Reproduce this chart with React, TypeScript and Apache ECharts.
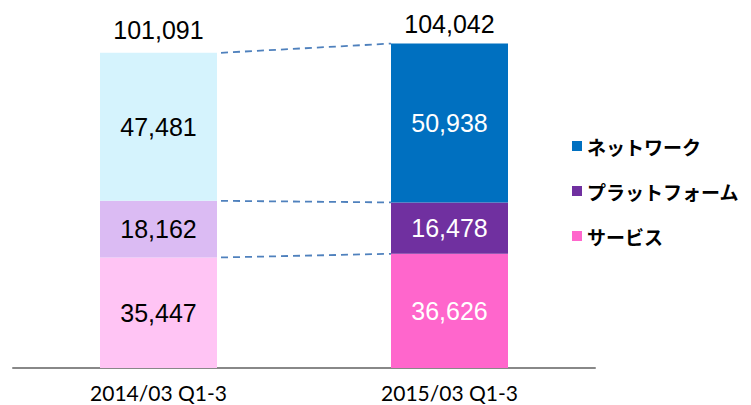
import React, { useEffect, useRef } from "react";
import * as echarts from "echarts";

const categories = ["2014/03 Q1-3", "2015/03 Q1-3"];
const seriesNames = ["サービス", "プラットフォーム", "ネットワーク"];
const service = [35447, 36626];
const platform = [18162, 16478];
const network = [47481, 50938];
const totals = [101091, 104042];
const legendOrder = ["ネットワーク", "プラットフォーム", "サービス"];

const lightColors = ["#FFC4F4", "#DBBBF3", "#D5F3FD"];
const strongColors = ["#FF66CC", "#7030A0", "#0070C0"];
const labelColors2014 = "#000000";
const labelColors2015 = "#FFFFFF";

const BW = 117;
const fmt = (v: number) => v.toLocaleString("en-US");

export default function App() {
  const ref = useRef<HTMLDivElement>(null);
  useEffect(() => {
    document.body.style.margin = "0";
    const chart = echarts.init(ref.current!, null, { renderer: "svg" });
    const segs = [service, platform, network];
    const cum: number[][] = [];
    let acc = [0, 0];
    segs.forEach((s) => {
      acc = [acc[0] + s[0], acc[1] + s[1]];
      cum.push([...acc]);
    });
    const barSeries = segs.map((s, i) => ({
      name: seriesNames[i],
      type: "bar",
      stack: "total",
      barWidth: BW,
      itemStyle: { color: strongColors[i] },
      label: {
        show: true,
        position: "inside",
        fontFamily: "Liberation Sans",
        fontSize: 25,
        formatter: (p: any) => fmt(p.value),
      },
      data: s.map((v, j) => ({
        value: v,
        itemStyle: { color: j === 0 ? lightColors[i] : strongColors[i] },
        label: { color: j === 0 ? labelColors2014 : labelColors2015 },
      })),
    }));
    chart.setOption({
      animation: false,
      grid: { left: 13, right: 156, top: 25, bottom: 37 },
      legend: {
        data: legendOrder,
        orient: "vertical",
        left: 567,
        top: 131,
        itemWidth: 10,
        itemHeight: 10,
        itemGap: 25,
        itemTextGap: 3,
        icon: "rect",
        textStyle: {
          fontFamily: "Noto Sans CJK JP",
          fontWeight: "bold",
          fontSize: 19,
          color: "#000",
          lineHeight: 20,
        },
      },
      xAxis: {
        type: "category",
        data: categories,
        axisLine: { lineStyle: { color: "#888888", width: 2 } },
        axisTick: { show: false },
        axisLabel: {
          fontFamily: "Lato",
          fontSize: 21,
          lineHeight: 18,
          color: "#000",
          margin: 15,
        },
      },
      yAxis: { type: "value", min: 0, max: 110000, show: false },
      series: [
        ...barSeries,
        {
          type: "custom",
          name: "lines",
          z: 5,
          encode: { x: 0, y: 1 },
          data: cum.map((c) => [0, c[0], c[1]]),
          renderItem: (params: any, api: any) => {
            const p1 = api.coord([0, api.value(1)]);
            const p2 = api.coord([1, api.value(2)]);
            return {
              type: "line",
              shape: { x1: p1[0] + BW / 2 + 4, y1: p1[1], x2: p2[0] - BW / 2, y2: p2[1] },
              style: { stroke: "#4F81BD", lineWidth: 1.8, lineDash: [7, 5] },
            };
          },
        },
        {
          type: "scatter",
          name: "totals",
          symbolSize: 0,
          itemStyle: { opacity: 1 },
          data: totals.map((v, i) => ({ value: v, label: { distance: i === 0 ? 10 : 7 } })),
          label: {
            show: true,
            position: "top",
            fontFamily: "Liberation Sans",
            fontSize: 25,
            color: "#000",
            formatter: (p: any) => fmt(p.value),
          },
        },
      ],
    });
    return () => chart.dispose();
  }, []);
  return <div ref={ref} style={{ width: 751, height: 405 }} />;
}
